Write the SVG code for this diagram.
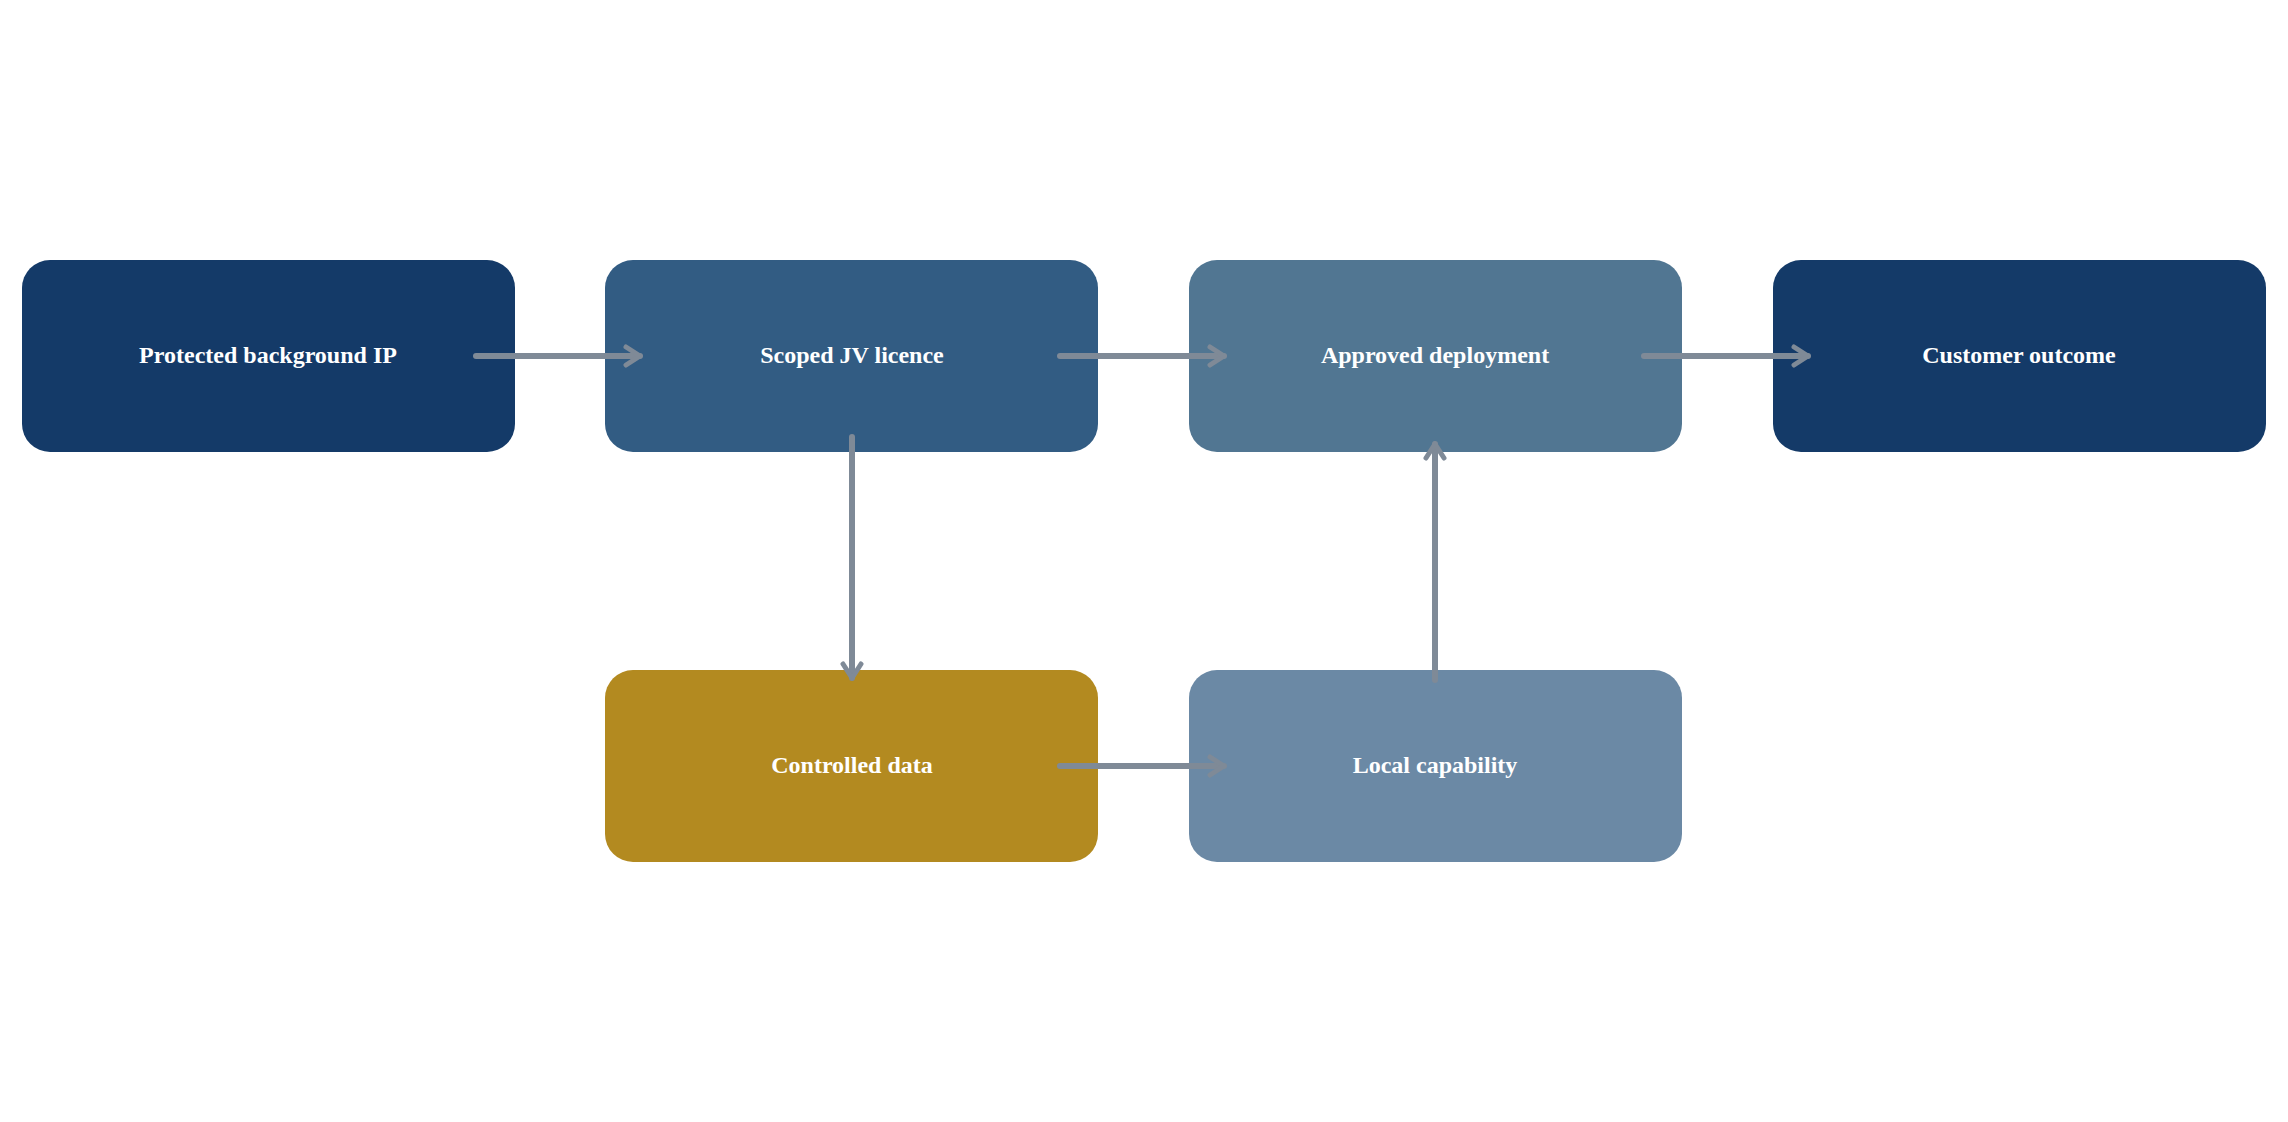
<svg xmlns="http://www.w3.org/2000/svg" width="2288" height="1122" viewBox="0 0 2288 1122">
<style>
.n text{font-family:"Liberation Serif",serif;font-weight:bold;font-size:24px;fill:#fff;text-anchor:middle;dominant-baseline:central}
.c path{fill:none;stroke:#7f8a97;stroke-width:6;stroke-linecap:round;marker-end:url(#ah)}
</style>
<defs>
<marker id="ah" viewBox="0 0 12 12" refX="10" refY="6" markerWidth="4" markerHeight="4" orient="auto" markerUnits="strokeWidth">
<path d="M3,1.5 L10,6 L3,10.5" fill="none" stroke="#7f8a97" stroke-width="2.5" stroke-linecap="round" stroke-linejoin="round"/>
</marker>
</defs>
<rect width="2288" height="1122" fill="#fff"/>
<g id="n1" class="n"><rect x="22" y="260" width="493" height="192" rx="28" fill="#143a68"/><text x="268" y="355">Protected background IP</text></g>
<g id="n2" class="n"><rect x="605" y="260" width="493" height="192" rx="28" fill="#325c83"/><text x="852" y="355">Scoped JV licence</text></g>
<g id="n3" class="n"><rect x="1189" y="260" width="493" height="192" rx="28" fill="#517692"/><text x="1435" y="355">Approved deployment</text></g>
<g id="n4" class="n"><rect x="1773" y="260" width="493" height="192" rx="28" fill="#143a68"/><text x="2019" y="355">Customer outcome</text></g>
<g id="n5" class="n"><rect x="605" y="670" width="493" height="192" rx="28" fill="#b38a20"/><text x="852" y="765">Controlled data</text></g>
<g id="n6" class="n"><rect x="1189" y="670" width="493" height="192" rx="28" fill="#6b89a5"/><text x="1435" y="765">Local capability</text></g>
<g id="connectors" class="c">
<path d="M476,356 H640"/>
<path d="M1060,356 H1224"/>
<path d="M1644,356 H1808"/>
<path d="M852,437 V678"/>
<path d="M1060,766 H1224"/>
<path d="M1435,680 V444"/>
</g>
</svg>
